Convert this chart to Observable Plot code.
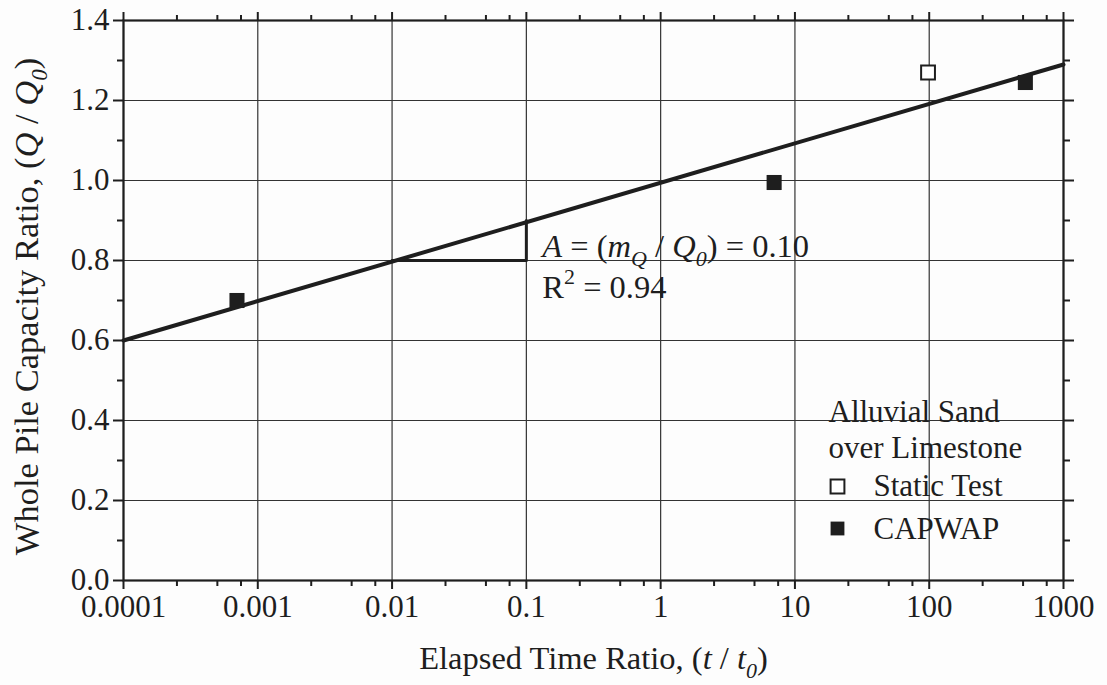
<!DOCTYPE html>
<html>
<head>
<meta charset="utf-8">
<script src="https://cdn.jsdelivr.net/npm/d3@7"></script>
<script src="https://cdn.jsdelivr.net/npm/@observablehq/plot@0.6"></script>
<style>
  html, body { margin: 0; padding: 0; background: #fdfdfd; }
  #chart { width: 1107px; height: 685px; }
</style>
</head>
<body>
<div id="chart"></div>
<script>
// ---- data ----
const xTicks = [0.0001, 0.001, 0.01, 0.1, 1, 10, 100, 1000];
const xMinor = [0.00025, 0.0005, 0.00075, 0.0025, 0.005, 0.0075, 0.025, 0.05, 0.075,
                0.25, 0.5, 0.75, 2.5, 5, 7.5, 25, 50, 75, 250, 500, 750];
const yTicks = [0, 0.2, 0.4, 0.6, 0.8, 1.0, 1.2, 1.4];
const yMinor = [0.1, 0.3, 0.5, 0.7, 0.9, 1.1, 1.3];

const capwapT = [0.0007, 7, 520];
const capwapQ = [0.70, 0.995, 1.245];
const staticT = [98];
const staticQ = [1.27];

const fitT = [0.0001, 1000];
const fitQ = [0.60, 1.29];

const slopeT = [0.01, 0.1, 0.1];
const slopeQ = [0.80, 0.80, 0.90];

const annotT = [0.1, 0.1];
const annotQ = [0.835, 0.733];
const annotText = ["A = (mQ / Q0) = 0.10", "R2 = 0.94"];

const legendTitle = ["Alluvial Sand", "over Limestone"];
const legendItems = ["Static Test", "CAPWAP"];

const xLabel = "Elapsed Time Ratio, (t / t0)";
const yLabel = "Whole Pile Capacity Ratio, (Q / Q0)";

// ---- build ----
const capwap = capwapT.map((t, i) => ({t, q: capwapQ[i]}));
const stat = staticT.map((t, i) => ({t, q: staticQ[i]}));
const fit = fitT.map((t, i) => ({t, q: fitQ[i]}));
const slope = slopeT.map((t, i) => ({t, q: slopeQ[i]}));
const annot = annotT.map((t, i) => ({t, q: annotQ[i], s: annotText[i]}));

const ink = "#1e1e1e";
const FS = 31;
const FS2 = 32.5;
const FS3 = 34.5;
const none = () => "";

const plot = Plot.plot({
  width: 1107,
  height: 685,
  marginLeft: 123,
  marginRight: 44,
  marginTop: 20,
  marginBottom: 105,
  style: {fontFamily: "'Liberation Serif', 'Times New Roman', serif", fontSize: FS + "px", color: ink, background: "#fdfdfd"},
  x: {type: "log", domain: [0.0001, 1000]},
  y: {domain: [0, 1.4]},
  marks: [
    Plot.gridX(xTicks, {stroke: "#333", strokeOpacity: 1, strokeWidth: 1.2}),
    Plot.gridY(yTicks, {stroke: "#333", strokeOpacity: 1, strokeWidth: 1.2}),
    Plot.axisX(xTicks, {anchor: "bottom", tickSize: 9, tickPadding: 5, tickFormat: d => String(d), label: null, strokeWidth: 2}),
    Plot.axisX(xMinor, {anchor: "bottom", tickSize: 6, tickFormat: none, label: null, strokeWidth: 2}),
    Plot.axisX(xTicks, {anchor: "top", tickSize: 9, tickFormat: none, label: null, strokeWidth: 2}),
    Plot.axisX(xMinor, {anchor: "top", tickSize: 6, tickFormat: none, label: null, strokeWidth: 2}),
    Plot.axisY(yTicks, {anchor: "left", tickSize: 10, tickPadding: 4, tickFormat: d3.format(".1f"), label: null, strokeWidth: 2}),
    Plot.axisY(yMinor, {anchor: "left", tickSize: 6, tickFormat: none, label: null, strokeWidth: 2}),
    Plot.axisY(yTicks, {anchor: "right", tickSize: 10, tickFormat: none, label: null, strokeWidth: 2}),
    Plot.axisY(yMinor, {anchor: "right", tickSize: 6, tickFormat: none, label: null, strokeWidth: 2}),
    Plot.frame({stroke: ink, strokeWidth: 2.2}),
    Plot.line(fit, {x: "t", y: "q", stroke: ink, strokeWidth: 4}),
    Plot.line(slope, {x: "t", y: "q", stroke: ink, strokeWidth: 3}),
    Plot.dot(capwap, {x: "t", y: "q", symbol: "square", r: 8.5, fill: ink, stroke: "none"}),
    Plot.dot(stat, {x: "t", y: "q", symbol: "square", r: 7.8, fill: "#fff", stroke: ink, strokeWidth: 2}),
    Plot.text(annot, {x: "t", y: "q", text: "s", textAnchor: "start", dx: 16, fill: ink, fontSize: FS2}),
    // legend
    Plot.text([legendTitle[0]], {frameAnchor: "bottom-right", dx: -235, dy: -159, textAnchor: "start", fill: ink}),
    Plot.text([legendTitle[1]], {frameAnchor: "bottom-right", dx: -235, dy: -123, textAnchor: "start", fill: ink}),
    Plot.text([legendItems[0]], {frameAnchor: "bottom-right", dx: -190, dy: -85, textAnchor: "start", fill: ink}),
    Plot.text([legendItems[1]], {frameAnchor: "bottom-right", dx: -190, dy: -42, textAnchor: "start", fill: ink}),
    Plot.dot([legendItems[0]], {frameAnchor: "bottom-right", dx: -226, dy: -94, symbol: "square", r: 7.8, fill: "#fff", stroke: ink, strokeWidth: 2}),
    Plot.dot([legendItems[1]], {frameAnchor: "bottom-right", dx: -226, dy: -52, symbol: "square", r: 7.8, fill: ink, stroke: "none"}),
    // axis titles
    Plot.text([xLabel], {frameAnchor: "bottom", dy: 88, fill: ink, fontSize: FS2}),
    Plot.text([yLabel], {frameAnchor: "left", textAnchor: "middle", dx: -97, dy: 6, rotate: -90, fill: ink, fontSize: FS3})
  ]
});

document.getElementById("chart").appendChild(plot);

// rich text (italics, subscripts, superscripts)
function rich(plain, segs, fs) {
  d3.select(plot).selectAll("text").filter(function () { return this.textContent === plain; }).each(function () {
    const t = d3.select(this);
    t.text(null);
    let shift = 0;
    for (const s of segs) {
      const sp = t.append("tspan").text(s.t);
      if (s.i) sp.attr("font-style", "italic");
      const target = s.sub ? fs * 0.28 : s.sup ? -fs * 0.42 : 0;
      if (target !== shift) { sp.attr("dy", target - shift); shift = target; }
      if (s.sub || s.sup) sp.attr("font-size", Math.round(fs * 0.68));
    }
  });
}
rich(xLabel, [{t: "Elapsed Time Ratio, ("}, {t: "t", i: 1}, {t: " / "}, {t: "t", i: 1}, {t: "0", i: 1, sub: 1}, {t: ")"}], FS2);
rich(yLabel, [{t: "Whole Pile Capacity Ratio, ("}, {t: "Q", i: 1}, {t: " / "}, {t: "Q", i: 1}, {t: "0", i: 1, sub: 1}, {t: ")"}], FS3);
rich(annotText[0], [{t: "A", i: 1}, {t: " = ("}, {t: "m", i: 1}, {t: "Q", i: 1, sub: 1}, {t: " / "}, {t: "Q", i: 1}, {t: "0", i: 1, sub: 1}, {t: ") = 0.10"}], FS2);
rich(annotText[1], [{t: "R"}, {t: "2", sup: 1}, {t: " = 0.94"}], FS2);
</script>
</body>
</html>
